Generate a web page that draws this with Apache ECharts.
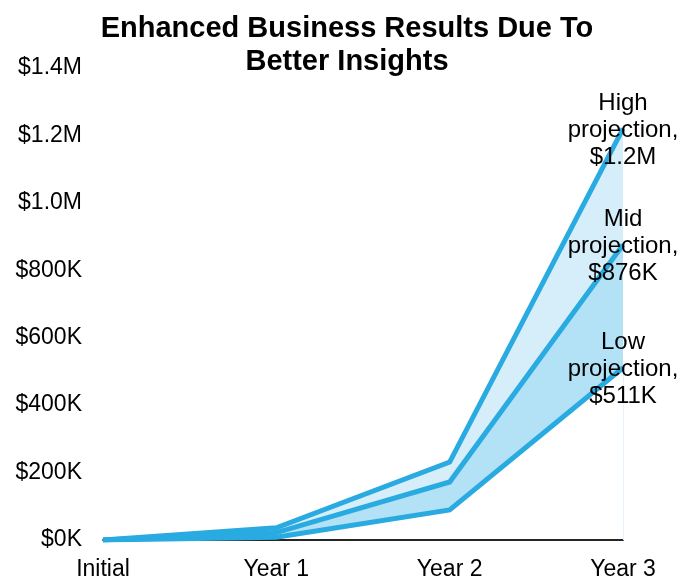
<!DOCTYPE html>
<html>
<head>
<meta charset="utf-8">
<script src="https://cdn.jsdelivr.net/npm/echarts@6/dist/echarts.min.js"></script>
<style>html,body{margin:0;padding:0;background:#fff}#c{width:694px;height:580px}</style>
</head>
<body>
<div id="c"></div>
<script>
var categories = ['Initial', 'Year 1', 'Year 2', 'Year 3'];
var highValues = [0, 36000, 231000, 1220000];
var midValues = [0, 22000, 172000, 876000];
var lowValues = [0, 8000, 89000, 511000];
var endLabels = ['High\nprojection,\n$1.2M', 'Mid\nprojection,\n$876K', 'Low\nprojection,\n$511K'];

var FONT = "'Liberation Sans', Arial, sans-serif";
var LINE = '#29abe2';

function fmt(v) {
  if (v >= 1000000) return '$' + (v / 1000000).toFixed(1) + 'M';
  return '$' + Math.round(v / 1000) + 'K';
}
function diff(a, b) { return a.map(function (v, i) { return v - b[i]; }); }
function withEndLabel(arr, text) {
  return arr.map(function (v, i) {
    if (i === arr.length - 1) {
      return { value: v, label: { show: true, position: 'inside', offset: [0, 2], formatter: text } };
    }
    return v;
  });
}

var chart = echarts.init(document.getElementById('c'));
var lineCommon = {
  type: 'line',
  symbol: 'circle',
  symbolSize: 1,
  showSymbol: true,
  z: 5,
  lineStyle: { color: LINE, width: 5, join: 'miter' },
  itemStyle: { color: LINE },
  label: { show: false, color: '#000', fontSize: 24, lineHeight: 27, fontFamily: FONT, align: 'center' },
  emphasis: { disabled: true },
  animation: false
};
chart.setOption({
  animation: false,
  title: {
    text: 'Enhanced Business Results Due To\nBetter Insights',
    left: 'center',
    top: 7,
    textStyle: { fontSize: 29, fontWeight: 'bold', lineHeight: 33, color: '#000', fontFamily: FONT }
  },
  grid: { left: 103, right: 71, top: 68, bottom: 40, containLabel: false, outerBoundsMode: 'none' },
  xAxis: {
    type: 'category',
    data: categories,
    boundaryGap: false,
    axisLine: { lineStyle: { color: '#262626', width: 2 } },
    axisTick: { show: false },
    axisLabel: { color: '#000', fontSize: 23, fontFamily: FONT, margin: 18 }
  },
  yAxis: {
    type: 'value',
    min: 0,
    max: 1400000,
    interval: 200000,
    axisLine: { show: false },
    axisTick: { show: false },
    splitLine: { show: false },
    axisLabel: { color: '#000', fontSize: 23, fontFamily: FONT, margin: 21, formatter: fmt }
  },
  series: [
    {
      name: 'base', type: 'line', stack: 'band', data: lowValues, symbol: 'none',
      lineStyle: { width: 0, opacity: 0 }, areaStyle: { opacity: 0 }, z: 1, silent: true,
      markLine: {
        symbol: 'none', silent: true, label: { show: false },
        lineStyle: { color: '#e3f3fb', width: 1, type: 'solid' },
        data: [[{ coord: ['Year 3', 0] }, { coord: ['Year 3', lowValues[3]] }]]
      }
    },
    {
      name: 'midBand', type: 'line', stack: 'band', data: diff(midValues, lowValues), symbol: 'none',
      lineStyle: { width: 0, opacity: 0 }, areaStyle: { color: '#b3e1f5', opacity: 1 }, z: 1, silent: true
    },
    {
      name: 'highBand', type: 'line', stack: 'band', data: diff(highValues, midValues), symbol: 'none',
      lineStyle: { width: 0, opacity: 0 }, areaStyle: { color: '#d6eef9', opacity: 1 }, z: 1, silent: true
    },
    Object.assign({}, lineCommon, { name: 'Low projection', data: withEndLabel(lowValues, endLabels[2]) }),
    Object.assign({}, lineCommon, { name: 'Mid projection', data: withEndLabel(midValues, endLabels[1]) }),
    Object.assign({}, lineCommon, { name: 'High projection', data: withEndLabel(highValues, endLabels[0]) })
  ]
});
</script>
</body>
</html>
